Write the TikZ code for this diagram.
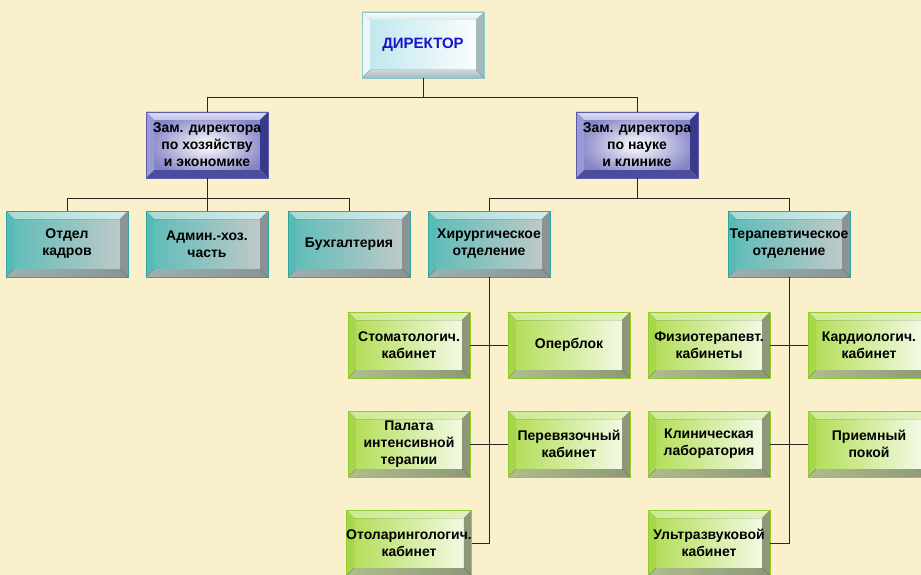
\documentclass[tikz,border=0pt]{standalone}
\usepackage{fontspec}
\setmainfont{Liberation Sans}
\definecolor{bg}{HTML}{FAF0CC}
\definecolor{dirtxt}{HTML}{1616C8}
% director
\definecolor{dT}{HTML}{D6E8EA}\definecolor{dL}{HTML}{ECF7F8}\definecolor{dR}{HTML}{A4B8BC}\definecolor{dB}{HTML}{B6C8CC}\definecolor{dE}{HTML}{8CC8CC}\definecolor{dI}{HTML}{BDE6EC}
% zam
\definecolor{zT}{HTML}{C4C4EA}\definecolor{zL}{HTML}{9A9AD6}\definecolor{zR}{HTML}{3A3A8C}\definecolor{zB}{HTML}{4C4C9C}\definecolor{zE}{HTML}{5C5CA8}\definecolor{zI}{HTML}{8484C6}
% teal
\definecolor{tT}{HTML}{A6DAD6}\definecolor{tL}{HTML}{58BCB6}\definecolor{tR}{HTML}{8A9494}\definecolor{tB}{HTML}{9CB2B0}\definecolor{tE}{HTML}{2FA3A0}\definecolor{tI}{HTML}{5CBCB8}\definecolor{tG}{HTML}{C4CACA}
% green
\definecolor{gT}{HTML}{CCEA92}\definecolor{gL}{HTML}{A6D64C}\definecolor{gR}{HTML}{8E9878}\definecolor{gB}{HTML}{AEBE8C}\definecolor{gE}{HTML}{92CC2C}\definecolor{gI}{HTML}{B0DC50}
\tikzset{
  bevelbox/.style n args={6}{
    draw=#5, line width=0.8pt, minimum width=122pt, minimum height=66pt,
    inner sep=0pt, align=center, font=\bfseries\fontsize{14}{17}\selectfont,
    path picture={
      \fill[#6] ([shift={(8pt,-8pt)}]path picture bounding box.north west) rectangle ([shift={(-8pt,8pt)}]path picture bounding box.south east);
      \fill[#1] (path picture bounding box.north west) -- (path picture bounding box.north east) -- ([shift={(-8pt,-8pt)}]path picture bounding box.north east) -- ([shift={(8pt,-8pt)}]path picture bounding box.north west) -- cycle;
      \fill[#2] (path picture bounding box.north west) -- (path picture bounding box.south west) -- ([shift={(8pt,8pt)}]path picture bounding box.south west) -- ([shift={(8pt,-8pt)}]path picture bounding box.north west) -- cycle;
      \fill[#3] (path picture bounding box.north east) -- (path picture bounding box.south east) -- ([shift={(-8pt,8pt)}]path picture bounding box.south east) -- ([shift={(-8pt,-8pt)}]path picture bounding box.north east) -- cycle;
      \fill[#4] (path picture bounding box.south west) -- (path picture bounding box.south east) -- ([shift={(-8pt,8pt)}]path picture bounding box.south east) -- ([shift={(8pt,8pt)}]path picture bounding box.south west) -- cycle;
    }
  },
  dirbox/.style={bevelbox={top color=white, bottom color=dT}{dL}{dR}{top color=dB!70, bottom color=dR}{dE}{left color=dI, right color=white}, font=\bfseries\fontsize{15}{18}\selectfont, text=dirtxt},
  zambox/.style={bevelbox={top color=zT!60, bottom color=zT}{zL}{zR}{zB}{zE}{inner color=white, outer color=zI}},
  tealbox/.style={bevelbox={left color=tT, right color=tT!50}{tL}{tR}{left color=tB, right color=tR}{tE}{left color=tI, middle color=white!92!tI, right color=tG}},
  greenbox/.style={bevelbox={left color=gT, right color=gT!60}{gL}{gR}{left color=gB, right color=gR}{gE}{left color=gI, middle color=white, right color=white!90!gI}},
  link/.style={draw=black!85, line width=1pt}
}
\begin{document}
\begin{tikzpicture}[x=1pt,y=-1pt]
\useasboundingbox (0,0) rectangle (921,575);
\fill[bg] (0,0) rectangle (921,575);
% nodes
\node[dirbox] (dir) at (423,45) {ДИРЕКТОР};
\node[zambox] (zam1) at (207,145) {Зам. директора\\по хозяйству\\и экономике};
\node[zambox] (zam2) at (637,145) {Зам. директора\\по науке\\и клинике};
\node[tealbox] (kadry) at (67,244) {Отдел\\кадров};
\node[tealbox] (admin) at (207,244) {Админ.-хоз.\\часть};
\node[tealbox] (buh) at (349,244) {Бухгалтерия};
\node[tealbox] (hir) at (489,244) {Хирургическое\\отделение};
\node[tealbox] (ter) at (789,244) {Терапевтическое\\отделение};
\node[greenbox] (stom) at (409,345) {Стоматологич.\\кабинет};
\node[greenbox] (oper) at (569,345) {Оперблок};
\node[greenbox] (pal) at (409,444) {Палата\\интенсивной\\терапии};
\node[greenbox] (perev) at (569,444) {Перевязочный\\кабинет};
\node[greenbox] (otol) at (409,543) {Отоларингологич.\\кабинет};
\node[greenbox] (fiz) at (709,345) {Физиотерапевт.\\кабинеты};
\node[greenbox] (kard) at (869,345) {Кардиологич.\\кабинет};
\node[greenbox] (klin) at (709,444) {Клиническая\\лаборатория};
\node[greenbox] (priem) at (869,444) {Приемный\\покой};
\node[greenbox] (uzi) at (709,543) {Ультразвуковой\\кабинет};
% junctions
\coordinate (j1) at (423,98);
\coordinate (j2) at (207,198);
\coordinate (j3) at (637,198);
% connectors
\draw[link] (dir.south) -- (j1) -| (zam1.north);
\draw[link] (j1) -| (zam2.north);
\draw[link] (zam1.south) -- (j2) -| (kadry.north);
\draw[link] (j2) -- (admin.north);
\draw[link] (j2) -| (buh.north);
\draw[link] (zam2.south) -- (j3) -| (hir.north);
\draw[link] (j3) -| (ter.north);
\draw[link] (hir.south) |- (otol.east);
\draw[link] (stom.east) -- (oper.west);
\draw[link] (pal.east) -- (perev.west);
\draw[link] (ter.south) |- (uzi.east);
\draw[link] (fiz.east) -- (kard.west);
\draw[link] (klin.east) -- (priem.west);
\end{tikzpicture}
\end{document}
